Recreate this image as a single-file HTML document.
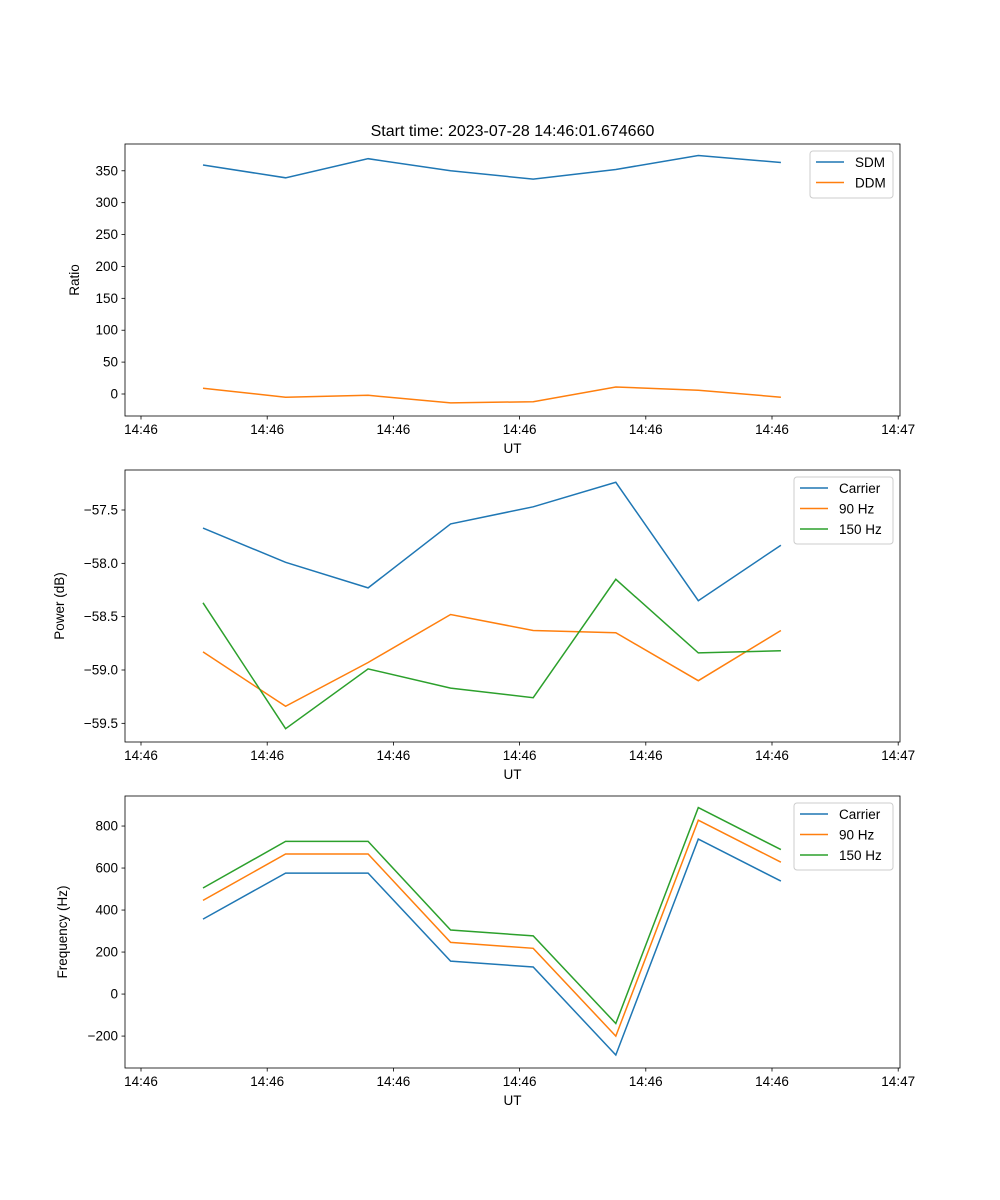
<!DOCTYPE html>
<html><head><meta charset="utf-8"><style>
body{margin:0;background:#fff}
svg{display:block;font-family:"Liberation Sans","DejaVu Sans",sans-serif}
</style></head><body>
<svg id="fig" width="1000" height="1200" viewBox="0 0 1000 1200">
<rect width="1000" height="1200" fill="#fff"/>
<text x="512.5" y="136" text-anchor="middle" font-size="16">Start time: 2023-07-28 14:46:01.674660</text>
</svg>
<script>
const sampleIndex = [0,1,2,3,4,5,6,7];
const xTickLabels = ["14:46","14:46","14:46","14:46","14:46","14:46","14:47"];
const sdm = [359,339,369,350,337,352,374,363];
const ddm = [9,-5,-2,-14,-12,11,6,-5];
const carrierPower = [-57.67,-57.99,-58.23,-57.63,-57.47,-57.24,-58.35,-57.83];
const hz90Power = [-58.83,-59.34,-58.93,-58.48,-58.63,-58.65,-59.10,-58.63];
const hz150Power = [-58.37,-59.55,-58.99,-59.17,-59.26,-58.15,-58.84,-58.82];
const carrierFreq = [357,576,576,157,129,-290,738,538];
const hz90Freq = [446,667,667,246,218,-200,828,628];
const hz150Freq = [505,727,727,305,277,-140,888,688];
const ratioTicks = [0,50,100,150,200,250,300,350];
const powerTicks = [-57.5,-58.0,-58.5,-59.0,-59.5];
const freqTicks = [-200,0,200,400,600,800];

const NS='http://www.w3.org/2000/svg';
const svg=document.getElementById('fig');
function mk(tag,attrs,parent){const e=document.createElementNS(NS,tag);for(const k in attrs)e.setAttribute(k,attrs[k]);(parent||svg).appendChild(e);return e;}
const L=125,R=900;
function xScale(i){return 203+i*82.55;}
const tickIdx0=(141-203)/82.55, tickStep=126.2/82.55;
const C={blue:'#1f77b4',orange:'#ff7f0e',green:'#2ca02c'};

function panel(name,top,bot,ymin,ymax,yt,fmt,ylabel,series,legend){
  const H=bot-top;
  const y=v=>bot-(v-ymin)/(ymax-ymin)*H;
  const g=mk('g',{});
  
  
  series.forEach(s=>{
    const p=mk('polyline',{points:s.vals.map((v,i)=>xScale(sampleIndex[i]).toFixed(1)+','+y(v).toFixed(1)).join(' '),fill:'none',stroke:s.color,'stroke-width':1.5},g);
    
    
  });
  const fr=mk('rect',{x:L,y:top,width:R-L,height:H,fill:'none',stroke:'#000','stroke-width':0.8},g);
  
  
  yt.forEach(v=>{
    const yy=y(v);
    mk('line',{x1:L-3.5,x2:L,y1:yy,y2:yy,stroke:'#000','stroke-width':0.8},g);
    const t=mk('text',{x:L-7,y:yy+4.5,'text-anchor':'end','font-size':13.5},g);
    t.textContent=fmt(v);
    
    
  });
  xTickLabels.forEach((lab,k)=>{
    const xx=xScale(tickIdx0+k*tickStep);
    mk('line',{x1:xx,x2:xx,y1:bot,y2:bot+3.5,stroke:'#000','stroke-width':0.8},g);
    const t=mk('text',{x:xx,y:bot+18,'text-anchor':'middle','font-size':13.5},g);
    t.textContent=lab;
    
    
  });
  const xl=mk('text',{x:(L+R)/2,y:bot+37,'text-anchor':'middle','font-size':13.5},g);
  xl.textContent='UT';
  
  
  const lx=legend.lx, cy=(top+bot)/2;
  const yl=mk('text',{x:0,y:0,'text-anchor':'middle','font-size':13.5,transform:`translate(${lx},${cy}) rotate(-90)`},g);
  yl.textContent=ylabel;
  
  
  const lw=legend.w, lh=7+series.length*20;
  const lg=mk('g',{},g);
  
  
  mk('rect',{x:R-7-lw,y:top+7,width:lw,height:lh,rx:3,fill:'#fff','fill-opacity':0.8,stroke:'#ccc','stroke-width':1},lg);
  series.forEach((s,i)=>{
    const yy=top+18+i*20.5;
    const x0=R-7-lw+6;
    mk('line',{x1:x0,x2:x0+28,y1:yy,y2:yy,stroke:s.color,'stroke-width':1.5},lg);
    const t=mk('text',{x:x0+39,y:yy+5,'font-size':13.5},lg);
    t.textContent=s.label;
    
    
  });
}
panel('ratio',144,416,-34.5,392,ratioTicks,v=>v,'Ratio',
 [{key:'sdm',label:'SDM',vals:sdm,color:C.blue},{key:'ddm',label:'DDM',vals:ddm,color:C.orange}],{lx:79,w:83});
panel('power',470,742,-59.675,-57.125,powerTicks,v=>(v<0?'\u2212':'')+Math.abs(v).toFixed(1),'Power (dB)',
 [{key:'carrier',label:'Carrier',vals:carrierPower,color:C.blue},{key:'90hz',label:'90 Hz',vals:hz90Power,color:C.orange},{key:'150hz',label:'150 Hz',vals:hz150Power,color:C.green}],{lx:64,w:99});
panel('frequency',796,1068,-352,943,freqTicks,v=>(v<0?'\u2212':'')+Math.abs(v),'Frequency (Hz)',
 [{key:'carrier',label:'Carrier',vals:carrierFreq,color:C.blue},{key:'90hz',label:'90 Hz',vals:hz90Freq,color:C.orange},{key:'150hz',label:'150 Hz',vals:hz150Freq,color:C.green}],{lx:67,w:99});
</script>
</body></html>
